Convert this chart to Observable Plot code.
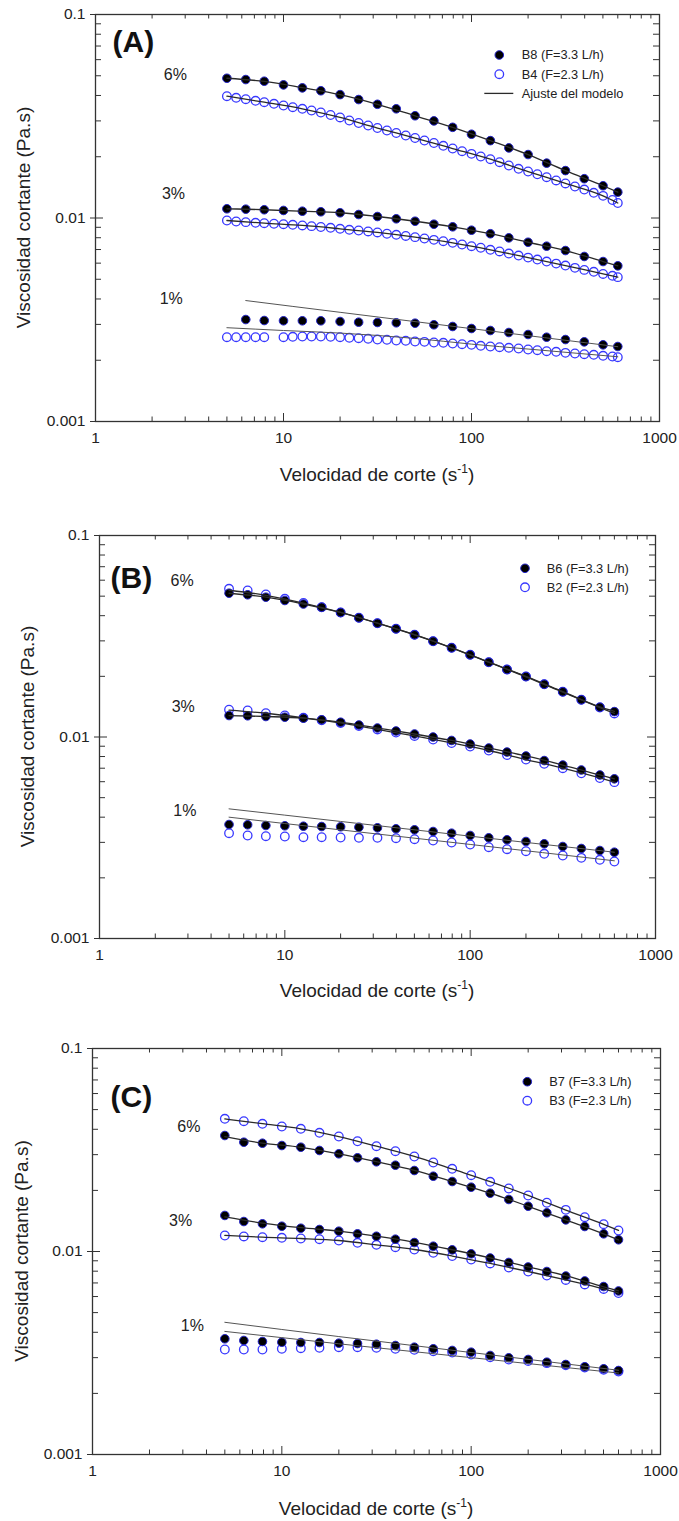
<!DOCTYPE html>
<html><head><meta charset="utf-8">
<script src="https://cdn.jsdelivr.net/npm/d3@7"></script>
<script src="https://cdn.jsdelivr.net/npm/@observablehq/plot@0.6"></script>
<style>
body{margin:0;background:#fff;}
#wrap{position:relative;width:679px;height:1521px;overflow:hidden;background:#fff;}
#wrap svg{position:absolute;left:0;}
</style></head><body><div id="wrap"></div>
<script>
// ---- shear rates (s^-1) ----
const rate = [5, 6.3, 7.9, 10, 12.6, 15.8, 20, 25.1, 31.6, 39.8, 50.1, 63.1, 79.4, 100, 126, 158, 200, 251, 316, 398, 501, 600];
const rateDense = [5.0, 5.6, 6.3, 7.1, 7.9, 8.9, 10, 11.2, 12.6, 14.1, 15.8, 17.8, 20, 22.4, 25.1, 28.2, 31.6, 35.5, 39.8, 44.7, 50.1, 56.2, 63.1, 70.8, 79.4, 89.1, 100, 112, 126, 141, 158, 178, 200, 224, 251, 282, 316, 355, 398, 447, 501, 562, 600];
const fitRate = [5, 7.9, 12.6, 20, 31.6, 50.1, 79.4, 126, 200, 316, 501, 600];
const fitRate1 = [5, 20, 100, 600];

// ---- Panel A: B8 (filled), B4 (open) ----
const A_B8_6 = [0.0486, 0.0479, 0.0470, 0.0451, 0.0436, 0.0422, 0.0404, 0.0382, 0.0362, 0.0344, 0.0318, 0.0300, 0.0279, 0.0258, 0.0240, 0.0221, 0.0205, 0.0186, 0.0171, 0.0156, 0.0144, 0.0134];
const A_B8_3 = [0.01110, 0.01105, 0.01098, 0.01089, 0.01080, 0.01073, 0.01061, 0.01040, 0.01017, 0.00991, 0.00964, 0.00932, 0.00905, 0.00871, 0.00837, 0.00799, 0.00760, 0.00727, 0.00692, 0.00647, 0.00611, 0.00582];
const A_B8_1 = [null, 0.00317, 0.003135, 0.003125, 0.003125, 0.003125, 0.0031, 0.003076, 0.003066, 0.003055, 0.003041, 0.002987, 0.00293, 0.002864, 0.0028, 0.002737, 0.002676, 0.002595, 0.002528, 0.002463, 0.002381, 0.002336];
const A_B4_6 = [0.03968, 0.03897, 0.03836, 0.03767, 0.03707, 0.03641, 0.03571, 0.03503, 0.03440, 0.03375, 0.03299, 0.03208, 0.03119, 0.03014, 0.02930, 0.02848, 0.02768, 0.02692, 0.02616, 0.02543, 0.02472, 0.02403, 0.02336, 0.02263, 0.02195, 0.02129, 0.02067, 0.02005, 0.01945, 0.01880, 0.01811, 0.01745, 0.01692, 0.01641, 0.01587, 0.01529, 0.01478, 0.01428, 0.01380, 0.01330, 0.01285, 0.01226, 0.01185];
const A_B4_3 = [0.00972, 0.00961, 0.00954, 0.00947, 0.00943, 0.00937, 0.00932, 0.00926, 0.00919, 0.00912, 0.00903, 0.00895, 0.00885, 0.00875, 0.00868, 0.00859, 0.00849, 0.00837, 0.00827, 0.00816, 0.00805, 0.00793, 0.00781, 0.00769, 0.00755, 0.00741, 0.00727, 0.00714, 0.00698, 0.00685, 0.00669, 0.00654, 0.00639, 0.00625, 0.00611, 0.00597, 0.00584, 0.00569, 0.00556, 0.00544, 0.00531, 0.00520, 0.00512];
const A_B4_1 = [0.002595, 0.002595, 0.002595, 0.002595, 0.002595, null, 0.002595, 0.002607, 0.002616, 0.002616, 0.002616, 0.002607, 0.002595, 0.002578, 0.002566, 0.002549, 0.002528, 0.00252, 0.0025, 0.002492, 0.002472, 0.002463, 0.002444, 0.002436, 0.002417, 0.002398, 0.002381, 0.002355, 0.002336, 0.002318, 0.002302, 0.002284, 0.002258, 0.00224, 0.002215, 0.0022, 0.002175, 0.002158, 0.002141, 0.002127, 0.002103, 0.002086, 0.00207];
const A_fit6_F = [0.0486, 0.0469, 0.0437, 0.0404, 0.0362, 0.0318, 0.0279, 0.0240, 0.0205, 0.0171, 0.0144, 0.0134];
const A_fit6_O = [0.03968, 0.03707, 0.0344, 0.03119, 0.02768, 0.02472, 0.02195, 0.01945, 0.01692, 0.01478, 0.01285, 0.01185];
const A_fit3_F = [0.0111, 0.01098, 0.0108, 0.01061, 0.01017, 0.00964, 0.00905, 0.00837, 0.0076, 0.00692, 0.00611, 0.00582];
const A_fit3_O = [0.00972, 0.00943, 0.00919, 0.00885, 0.00849, 0.00805, 0.00755, 0.00698, 0.00639, 0.00584, 0.00531, 0.00512];
const A_fit1_F_rate = [6.3, 20, 100, 600];
const A_fit1_F = [0.00393, 0.00344, 0.00286, 0.00233];
const A_fit1_O_rate = [5, 10, 20, 50, 100, 200, 600];
const A_fit1_O = [0.00289, 0.0028, 0.00272, 0.00256, 0.0024, 0.00227, 0.00208];

// ---- Panel B: B6 (filled), B2 (open) ----
const B_B6_6 = [0.05172, 0.05078, 0.04941, 0.04758, 0.04571, 0.04407, 0.04148, 0.03904, 0.03671, 0.03443, 0.03215, 0.02988, 0.02771, 0.02558, 0.0235, 0.02163, 0.01996, 0.01828, 0.01676, 0.0153, 0.01406, 0.01337];
const B_B2_6 = [0.05438, 0.05333, 0.05096, 0.04852, 0.04624, 0.04407, 0.04148, 0.03904, 0.03671, 0.03443, 0.03215, 0.02988, 0.02771, 0.02558, 0.0235, 0.02163, 0.01996, 0.01828, 0.01676, 0.0153, 0.014, 0.01309];
const B_B6_3 = [0.01278, 0.01274, 0.01264, 0.01254, 0.0124, 0.01217, 0.01184, 0.01147, 0.01108, 0.01071, 0.01035, 0.01, 0.00961, 0.00923, 0.00882, 0.00842, 0.00805, 0.00764, 0.00726, 0.00686, 0.00648, 0.0062];
const B_B2_3 = [0.01365, 0.01354, 0.01312, 0.01279, 0.01245, 0.0121, 0.01174, 0.01134, 0.0109, 0.01053, 0.01012, 0.00972, 0.00934, 0.00897, 0.00857, 0.00814, 0.00773, 0.00736, 0.007, 0.00661, 0.00626, 0.00597];
const B_B6_1 = [0.003679, 0.003666, 0.003637, 0.003624, 0.003608, 0.003595, 0.003583, 0.003567, 0.003543, 0.003502, 0.003463, 0.003396, 0.003331, 0.003245, 0.003161, 0.003089, 0.00303, 0.002951, 0.002861, 0.002797, 0.002733, 0.002681];
const B_B2_1 = [0.003331, 0.003245, 0.003219, 0.003208, 0.003182, 0.003182, 0.003171, 0.003161, 0.003161, 0.003146, 0.003111, 0.003065, 0.002995, 0.002928, 0.002838, 0.002774, 0.002712, 0.002632, 0.002581, 0.002514, 0.002458, 0.002411];
const B_fit6_F = [0.0517, 0.0494, 0.0457, 0.0415, 0.0367, 0.0322, 0.0277, 0.0235, 0.02, 0.0168, 0.0141, 0.0134];
const B_fit6_O = [0.0535, 0.0505, 0.0462, 0.0415, 0.0367, 0.0321, 0.0277, 0.0235, 0.0199, 0.0167, 0.014, 0.0131];
const B_fit3_F = [0.01278, 0.01264, 0.0124, 0.01184, 0.01108, 0.01035, 0.00961, 0.00882, 0.00805, 0.00726, 0.00648, 0.0062];
const B_fit3_O = [0.0136, 0.01312, 0.01245, 0.01174, 0.0109, 0.01012, 0.00934, 0.00857, 0.00773, 0.007, 0.00626, 0.00597];
const B_fit1_F = [0.0044, 0.00381, 0.00322, 0.00268];
const B_fit1_O = [0.004, 0.00346, 0.00293, 0.00243];

// ---- Panel C: B7 (filled), B3 (open) ----
const C_B7_6 = [0.03727, 0.03454, 0.03415, 0.03327, 0.03264, 0.03145, 0.03029, 0.02895, 0.02766, 0.02661, 0.02506, 0.02349, 0.02212, 0.02074, 0.01937, 0.01804, 0.01671, 0.01551, 0.01432, 0.01328, 0.01222, 0.01142];
const C_B3_6 = [0.04505, 0.04384, 0.04256, 0.04128, 0.04022, 0.03843, 0.03685, 0.03493, 0.03301, 0.03119, 0.02938, 0.02745, 0.02555, 0.02376, 0.02205, 0.02043, 0.01887, 0.01738, 0.01604, 0.01476, 0.01363, 0.01269];
const C_B7_3 = [0.01505, 0.01405, 0.01369, 0.01332, 0.01302, 0.01283, 0.01259, 0.01222, 0.01189, 0.0115, 0.01107, 0.01062, 0.01019, 0.00974, 0.00929, 0.00883, 0.00839, 0.00797, 0.00757, 0.00716, 0.00672, 0.00639];
const C_B3_3 = [0.01199, 0.01186, 0.01176, 0.01168, 0.01159, 0.0115, 0.01133, 0.01104, 0.01079, 0.0105, 0.01023, 0.00985, 0.0095, 0.00913, 0.00873, 0.00834, 0.00797, 0.00761, 0.00724, 0.00688, 0.00654, 0.00624];
const C_B7_1 = [0.003715, 0.003644, 0.003603, 0.003574, 0.003562, 0.003562, 0.003534, 0.003522, 0.003494, 0.003443, 0.003378, 0.003317, 0.003254, 0.003191, 0.003074, 0.002995, 0.002938, 0.002849, 0.002775, 0.002704, 0.002643, 0.002592];
const C_B3_1 = [0.003291, 0.003291, 0.003291, 0.003317, 0.00334, 0.003355, 0.003378, 0.003378, 0.003355, 0.003317, 0.00328, 0.003228, 0.00318, 0.003109, 0.003015, 0.002938, 0.002889, 0.002818, 0.002754, 0.002683, 0.002613, 0.002563];
const C_fit6_F = [0.0368, 0.0342, 0.0326, 0.0303, 0.0277, 0.0251, 0.0221, 0.0194, 0.0167, 0.0143, 0.0122, 0.0114];
const C_fit6_O = [0.045, 0.0426, 0.0402, 0.0368, 0.033, 0.0294, 0.0255, 0.0221, 0.0189, 0.016, 0.0136, 0.0127];
const C_fit3_F = [0.0148, 0.0138, 0.0131, 0.0126, 0.0119, 0.0111, 0.0102, 0.0093, 0.0084, 0.0076, 0.0067, 0.0064];
const C_fit3_O = [0.012, 0.01176, 0.01159, 0.01133, 0.01079, 0.01023, 0.0095, 0.00873, 0.00797, 0.00724, 0.00654, 0.00624];
const C_fit1_F = [0.00448, 0.00381, 0.00318, 0.0026];
const C_fit1_O = [0.00404, 0.00351, 0.003, 0.00252];

// ---- labels ----
const concLabels = ["6%", "3%", "1%"];
const A_labelPos = [[2.66, 0.0507], [2.6, 0.0132], [2.53, 0.0040]];
const B_labelPos = [[2.79, 0.0598], [2.83, 0.0141], [2.89, 0.00432]];
const C_labelPos = [[3.23, 0.041], [2.92, 0.0142], [3.37, 0.00432]];
const legendA = ["B8 (F=3.3 L/h)", "B4 (F=2.3 L/h)", "Ajuste del modelo"];
const legendB = ["B6 (F=3.3 L/h)", "B2 (F=2.3 L/h)"];
const legendC = ["B7 (F=3.3 L/h)", "B3 (F=2.3 L/h)"];
const majorX = [1, 10, 100, 1000];
const minorX = [2, 3, 4, 5, 6, 7, 8, 9, 20, 30, 40, 50, 60, 70, 80, 90, 200, 300, 400, 500, 600, 700, 800, 900];
const majorY = [0.001, 0.01, 0.1];
const minorY = [0.002, 0.003, 0.004, 0.005, 0.006, 0.007, 0.008, 0.009, 0.02, 0.03, 0.04, 0.05, 0.06, 0.07, 0.08, 0.09];
const xTickText = ["1", "10", "100", "1000"];
const yTickText = ["0.001", "0.01", "0.1"];
const xTitle = "Velocidad de corte (s";
const xTitleSup = "-1";
const yTitle = "Viscosidad cortante (Pa.s)";

const FONT = '"Liberation Sans", Arial, Helvetica, sans-serif';
const BLUE = "#3838ff";
const RIM = "#2323c8";
const INK = "#222";

function series(xs, ys) { return xs.map((x, i) => ({x, y: ys[i]})).filter(d => d.y != null); }

function makePanel(p) {
  const W = 679;
  const innerW = W - p.ml - p.mr, innerH = p.h - p.mt - p.mb;
  const marks = [];
  const tk = {stroke: "#333", strokeWidth: 1};
  // ticks (inside on all four sides)
  marks.push(Plot.ruleX(majorX, {...tk, insetTop: innerH - 8}));
  marks.push(Plot.ruleX(majorX, {...tk, insetBottom: innerH - 8}));
  marks.push(Plot.ruleX(minorX, {...tk, insetTop: innerH - 4.5}));
  marks.push(Plot.ruleX(minorX, {...tk, insetBottom: innerH - 4.5}));
  marks.push(Plot.ruleY(majorY, {...tk, insetLeft: -5, insetRight: innerW - 8}));
  marks.push(Plot.ruleY(majorY, {...tk, insetLeft: innerW - 8}));
  marks.push(Plot.ruleY(minorY, {...tk, insetRight: innerW - 6}));
  marks.push(Plot.ruleY(minorY, {...tk, insetLeft: innerW - 6}));
  marks.push(Plot.frame({stroke: "#333", strokeWidth: 1.3}));
  // tick labels as text marks bound to the scales
  marks.push(Plot.text(majorX.map((v, i) => ({v, t: xTickText[i]})), {x: "v", text: "t", frameAnchor: "bottom", dy: 17, fontSize: 15.5, fill: INK, lineAnchor: "middle"}));
  marks.push(Plot.text(majorY.map((v, i) => ({v, t: yTickText[i]})), {y: "v", text: "t", frameAnchor: "left", dx: -10, fontSize: 15.5, fill: INK, textAnchor: "end", lineAnchor: "middle"}));
  // data points
  for (const s of p.open) marks.push(Plot.dot(series(s.x, s.y), {x: "x", y: "y", r: 4.3, stroke: BLUE, strokeWidth: 1.3, fill: "none"}));
  for (const s of p.filled) marks.push(Plot.dot(series(s.x, s.y), {x: "x", y: "y", r: 4.3, fill: "#000", stroke: RIM, strokeWidth: 1}));
  // model fits
  for (const f of p.fits) marks.push(Plot.line(series(f.x, f.y), {x: "x", y: "y", stroke: f.thin ? "#555" : "#2a2a2a", strokeWidth: f.thin ? 1 : 1.3, curve: "monotone-x"}));
  // concentration labels
  marks.push(Plot.text(concLabels.map((t, i) => ({t, x: p.labelPos[i][0], y: p.labelPos[i][1]})), {x: "x", y: "y", text: "t", fontSize: 16, fill: INK}));
  // panel letter
  marks.push(Plot.text([p.letter], {frameAnchor: "top-left", dx: p.letterDx, dy: p.letterDy, text: d => d, fontSize: 30, fontWeight: "bold", textAnchor: "start", lineAnchor: "middle", fill: "#111"}));

  const svg = Plot.plot({
    width: W, height: p.h,
    marginLeft: p.ml, marginRight: p.mr, marginTop: p.mt, marginBottom: p.mb,
    x: {type: "log", domain: [1, 1000], axis: null},
    y: {type: "log", domain: [0.001, 0.1], axis: null},
    style: {fontFamily: FONT, fontSize: "15px", background: "transparent", overflow: "visible", color: INK},
    marks
  });
  svg.style.top = p.top + "px";
  const g = d3.select(svg);
  // axis titles
  const xt = g.append("text").attr("x", p.xtx).attr("y", p.xty).attr("text-anchor", "middle")
    .attr("font-family", FONT).attr("font-size", 19).attr("fill", INK);
  xt.append("tspan").text(xTitle);
  xt.append("tspan").attr("dy", -8).attr("font-size", 12).text(xTitleSup);
  xt.append("tspan").attr("dy", 8).text(")");
  g.append("text").attr("transform", `translate(${p.ytx},${p.yty}) rotate(-90)`).attr("text-anchor", "middle")
    .attr("dy", "0.35em").attr("font-family", FONT).attr("font-size", 19).attr("fill", INK).text(yTitle);
  // legend
  const L = p.legend;
  g.append("circle").attr("cx", L.cx).attr("cy", L.y0).attr("r", 4.3).attr("fill", "#000").attr("stroke", RIM).attr("stroke-width", 1);
  g.append("circle").attr("cx", L.cx).attr("cy", L.y0 + L.dy).attr("r", 4.3).attr("fill", "none").attr("stroke", BLUE).attr("stroke-width", 1.3);
  L.items.forEach((t, i) => {
    g.append("text").attr("x", L.tx).attr("y", L.y0 + i * L.dy).attr("dy", "0.35em").attr("text-anchor", "start")
      .attr("font-family", FONT).attr("font-size", 12.8).attr("fill", INK).text(t);
  });
  if (L.items.length > 2) {
    g.append("line").attr("x1", L.cx - 15).attr("x2", L.cx + 14).attr("y1", L.y0 + 2 * L.dy).attr("y2", L.y0 + 2 * L.dy)
      .attr("stroke", "#2a2a2a").attr("stroke-width", 1.3);
  }
  return svg;
}

const wrap = document.getElementById("wrap");

wrap.appendChild(makePanel({
  top: 0, h: 500, ml: 95, mr: 20, mt: 14, mb: 79,
  letter: "(A)", letterDx: 17, letterDy: 28,
  xtx: 377, xty: 481, ytx: 23.5, yty: 217.5,
  labelPos: A_labelPos,
  legend: {cx: 499.3, tx: 521.7, y0: 55, dy: 19.2, items: legendA},
  open: [{x: rateDense, y: A_B4_6}, {x: rateDense, y: A_B4_3}, {x: rateDense, y: A_B4_1}],
  filled: [{x: rate, y: A_B8_6}, {x: rate, y: A_B8_3}, {x: rate, y: A_B8_1}],
  fits: [
    {x: fitRate, y: A_fit6_F}, {x: fitRate, y: A_fit6_O},
    {x: fitRate, y: A_fit3_F}, {x: fitRate, y: A_fit3_O},
    {x: A_fit1_F_rate, y: A_fit1_F, thin: true}, {x: A_fit1_O_rate, y: A_fit1_O, thin: true}
  ]
}));

wrap.appendChild(makePanel({
  top: 500, h: 510, ml: 99, mr: 24, mt: 35, mb: 72,
  letter: "(B)", letterDx: 11, letterDy: 43,
  xtx: 377, xty: 497, ytx: 27.5, yty: 236.5,
  labelPos: B_labelPos,
  legend: {cx: 525, tx: 546.7, y0: 68.3, dy: 19, items: legendB},
  open: [{x: rate, y: B_B2_6}, {x: rate, y: B_B2_3}, {x: rate, y: B_B2_1}],
  filled: [{x: rate, y: B_B6_6}, {x: rate, y: B_B6_3}, {x: rate, y: B_B6_1}],
  fits: [
    {x: fitRate, y: B_fit6_F}, {x: fitRate, y: B_fit6_O},
    {x: fitRate, y: B_fit3_F}, {x: fitRate, y: B_fit3_O},
    {x: fitRate1, y: B_fit1_F, thin: true}, {x: fitRate1, y: B_fit1_O, thin: true}
  ]
}));

wrap.appendChild(makePanel({
  top: 1010, h: 511, ml: 92, mr: 19, mt: 38, mb: 67,
  letter: "(C)", letterDx: 18, letterDy: 48.7,
  xtx: 376, xty: 505, ytx: 21, yty: 241,
  labelPos: C_labelPos,
  legend: {cx: 527.3, tx: 549.3, y0: 71.7, dy: 19, items: legendC},
  open: [{x: rate, y: C_B3_6}, {x: rate, y: C_B3_3}, {x: rate, y: C_B3_1}],
  filled: [{x: rate, y: C_B7_6}, {x: rate, y: C_B7_3}, {x: rate, y: C_B7_1}],
  fits: [
    {x: fitRate, y: C_fit6_F}, {x: fitRate, y: C_fit6_O},
    {x: fitRate, y: C_fit3_F}, {x: fitRate, y: C_fit3_O},
    {x: fitRate1, y: C_fit1_F, thin: true}, {x: fitRate1, y: C_fit1_O, thin: true}
  ]
}));
</script>
</body></html>
